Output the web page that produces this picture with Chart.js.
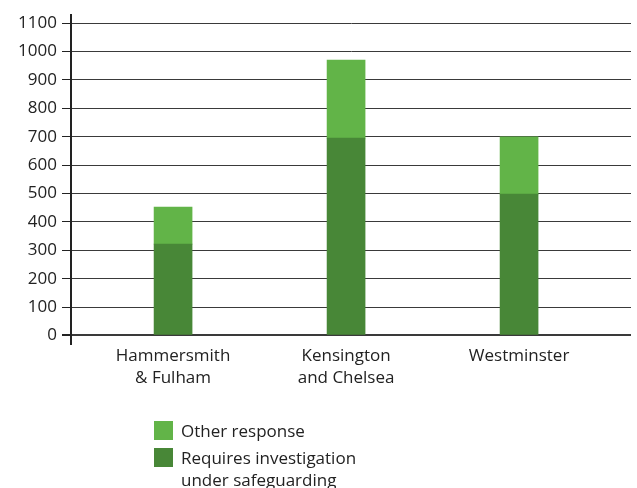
<!DOCTYPE html>
<html>
<head>
<meta charset="utf-8">
<script src="https://cdn.jsdelivr.net/npm/chart.js@4"></script>
<style>
  html, body { margin: 0; padding: 0; background: #fff; }
  #wrap { position: relative; width: 637px; height: 488px; }
  #legend { position: absolute; left: 154px; top: 420px; font-family: "Open Sans", sans-serif; font-size: 17px; color: #222; line-height: 22px; }
  .item { position: relative; padding-left: 27px; margin-bottom: 5px; }
  .box { position: absolute; left: 0; top: 1px; width: 19px; height: 19px; }
</style>
</head>
<body>
<div id="wrap">
  <canvas id="c" width="637" height="488"></canvas>
  <div id="legend"></div>
</div>
<script>
const categories = ["Hammersmith\n& Fulham", "Kensington\nand Chelsea", "Westminster"];
const requiresInvestigation = [322, 695, 498];
const otherResponse = [130, 275, 202];
const yTicks = [0, 100, 200, 300, 400, 500, 600, 700, 800, 900, 1000, 1100];
const seriesNames = ["Requires investigation\nunder safeguarding", "Other response"];
const seriesColors = ["#488737", "#62b448"];

const toPoints = arr => arr.map((v, i) => ({ x: i + 1, y: v }));

const chart = new Chart(document.getElementById('c'), {
  type: 'bar',
  data: {
    datasets: [
      { label: seriesNames[0], data: toPoints(requiresInvestigation), backgroundColor: seriesColors[0], barThickness: 38 },
      { label: seriesNames[1], data: toPoints(otherResponse), backgroundColor: seriesColors[1], barThickness: 38 }
    ]
  },
  options: {
    responsive: false,
    animation: false,
    layout: { padding: { left: 0, top: 13, right: 6, bottom: 0 } },
    plugins: { legend: { display: false }, tooltip: { enabled: false } },
    scales: {
      x: {
        type: 'linear',
        stacked: true,
        offset: false,
        min: 0.41,
        max: 3.647,
        grid: { display: false, drawTicks: false, offset: false },
        border: { display: false },
        afterBuildTicks: s => { s.ticks = categories.map((c, i) => ({ value: i + 1 })); },
        afterFit: s => { s.height = 144; },
        ticks: {
          autoSkip: false,
          maxRotation: 0,
          padding: 2,
          color: '#222',
          font: { family: "'Open Sans', sans-serif", size: 17, lineHeight: 1.25 },
          callback: v => { const c = categories[v - 1]; return c ? c.split('\n') : ''; }
        }
      },
      y: {
        stacked: true,
        min: -30,
        max: 1128,
        afterBuildTicks: s => { s.ticks = yTicks.map(v => ({ value: v })); },
        afterFit: s => { s.width = 71; },
        grid: {
          color: '#3a3a3a',
          lineWidth: c => (c.tick && c.tick.value === 0 ? 2 : 1),
          tickLength: 9,
          tickColor: '#222'
        },
        border: { display: true, color: '#222', width: 2 },
        ticks: {
          padding: 5,
          color: '#222',
          font: { family: "'Open Sans', sans-serif", size: 17 },
          callback: v => String(v)
        }
      }
    }
  }
});

const legend = document.getElementById('legend');
chart.data.datasets.slice().reverse().forEach(ds => {
  const item = document.createElement('div');
  item.className = 'item';
  const box = document.createElement('span');
  box.className = 'box';
  box.style.background = ds.backgroundColor;
  item.appendChild(box);
  ds.label.split('\n').forEach((line, k) => {
    if (k > 0) item.appendChild(document.createElement('br'));
    item.appendChild(document.createTextNode(line));
  });
  legend.appendChild(item);
});
</script>
</body>
</html>
